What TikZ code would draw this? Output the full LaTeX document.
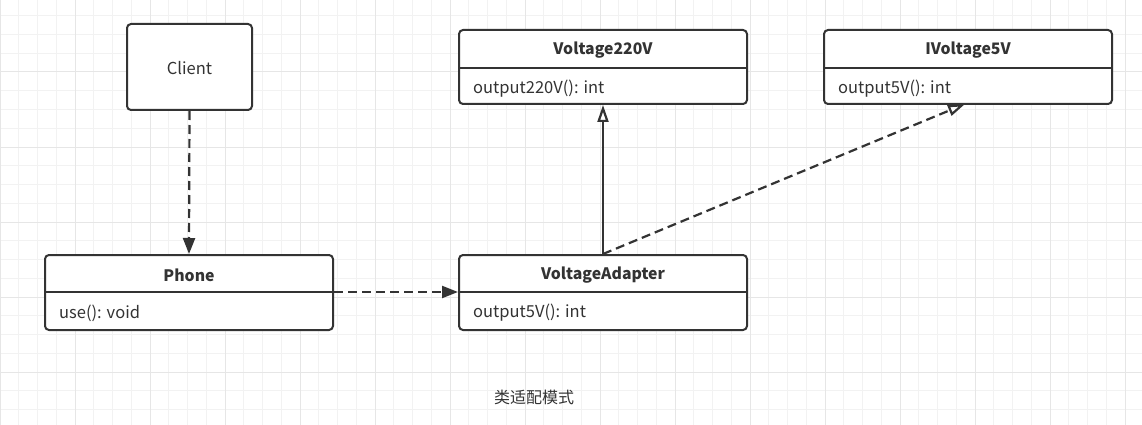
\documentclass[tikz,border=0pt]{standalone}
\usepackage{fontspec}
\setmainfont{Noto Sans CJK SC}
\usetikzlibrary{arrows.meta}
\definecolor{ln}{HTML}{333333}
\definecolor{gminor}{HTML}{F2F2F2}
\definecolor{gmajor}{HTML}{E6E6E6}
\tikzset{
  box/.style={draw=ln, line width=2pt, rounded corners=4pt, fill=white, inner sep=0pt},
  ttl/.style={text=ln, font=\fontsize{15.8}{18}\selectfont\bfseries, inner sep=0pt},
  attr/.style={text=ln, font=\fontsize{16.5}{18}\selectfont, inner sep=0pt, anchor=west},
  plain/.style={text=ln, font=\fontsize{16.5}{18}\selectfont, inner sep=0pt},
  capt/.style={text=ln, font=\fontsize{16}{18}\selectfont, inner sep=0pt},
  divider/.style={draw=ln, line width=2pt},
  dep/.style={draw=ln, line width=2.2pt, dash pattern=on 9pt off 5pt, -{Triangle[length=16pt,width=12pt]}},
  realz/.style={draw=ln, line width=2.2pt, dash pattern=on 9pt off 5pt, -{Triangle[open,length=17pt,width=11pt,fill=white]}},
  inh/.style={draw=ln, line width=2.2pt, -{Triangle[open,length=17pt,width=11pt,fill=white]}},
  gmin/.style={draw=gminor, line width=1pt},
  gmaj/.style={draw=gmajor, line width=1pt}
}
\begin{document}
\begin{tikzpicture}[x=1pt,y=-1pt]
\useasboundingbox (0,0) rectangle (1142,425);
\fill[white] (0,0) rectangle (1142,425);
\foreach \i in {0,...,61} \draw[gmin] ({\i*18.75},0) -- ({\i*18.75},425);
\foreach \j in {0,...,23} \draw[gmin] (0,{-3+\j*18.75}) -- (1142,{-3+\j*18.75});
\foreach \i in {0,...,15} \draw[gmaj] ({\i*75},0) -- ({\i*75},425);
\foreach \j in {0,...,6} \draw[gmaj] (0,{-3+\j*75}) -- (1142,{-3+\j*75});

% Client
\node[box, minimum width=125pt, minimum height=86pt] (client) at (189.5,67) {};
\node[plain] (clientt) at (189.5,68.5) {Client};

% Voltage220V
\node[box, minimum width=288pt, minimum height=74pt] (v220) at (603,67) {};
\node[ttl] (v220t) at (603,50.5) {Voltage220V};
\draw[divider] (v220.west |- 0,68) coordinate (v220dl) -- (v220.east |- 0,68) coordinate (v220dr);
\node[attr] (v220a) at (473,88.5) {output220V(): int};

% IVoltage5V
\node[box, minimum width=288pt, minimum height=74pt] (iv5) at (968,67) {};
\node[ttl] (iv5t) at (968,50.5) {IVoltage5V};
\draw[divider] (iv5.west |- 0,68) coordinate (iv5dl) -- (iv5.east |- 0,68) coordinate (iv5dr);
\node[attr] (iv5a) at (838,88.5) {output5V(): int};

% Phone
\node[box, minimum width=288pt, minimum height=75pt] (phone) at (189,292.5) {};
\node[ttl] (phonet) at (189,275) {Phone};
\draw[divider] (phone.west |- 0,292) coordinate (phonedl) -- (phone.east |- 0,292) coordinate (phonedr);
\node[attr] (phonea) at (59,313) {use(): void};

% VoltageAdapter
\node[box, minimum width=288pt, minimum height=75pt] (adapter) at (603,292.5) {};
\node[ttl] (adaptert) at (603,275) {VoltageAdapter};
\draw[divider] (adapter.west |- 0,292) coordinate (adl) -- (adapter.east |- 0,292) coordinate (adr);
\node[attr] (adaptera) at (473,313) {output5V(): int};

% connectors
\draw[dep] (client.south) -- (phone.north);
\draw[dep] (phonedr) -- (adl);
\draw[inh] (adapter.north) -- (v220.south);
\coordinate (iv5in) at (965,104);
\draw[realz] (adapter.north) -- (iv5in);

% caption
\node[capt] (cap) at (534,397) {类适配模式};
\end{tikzpicture}
\end{document}
